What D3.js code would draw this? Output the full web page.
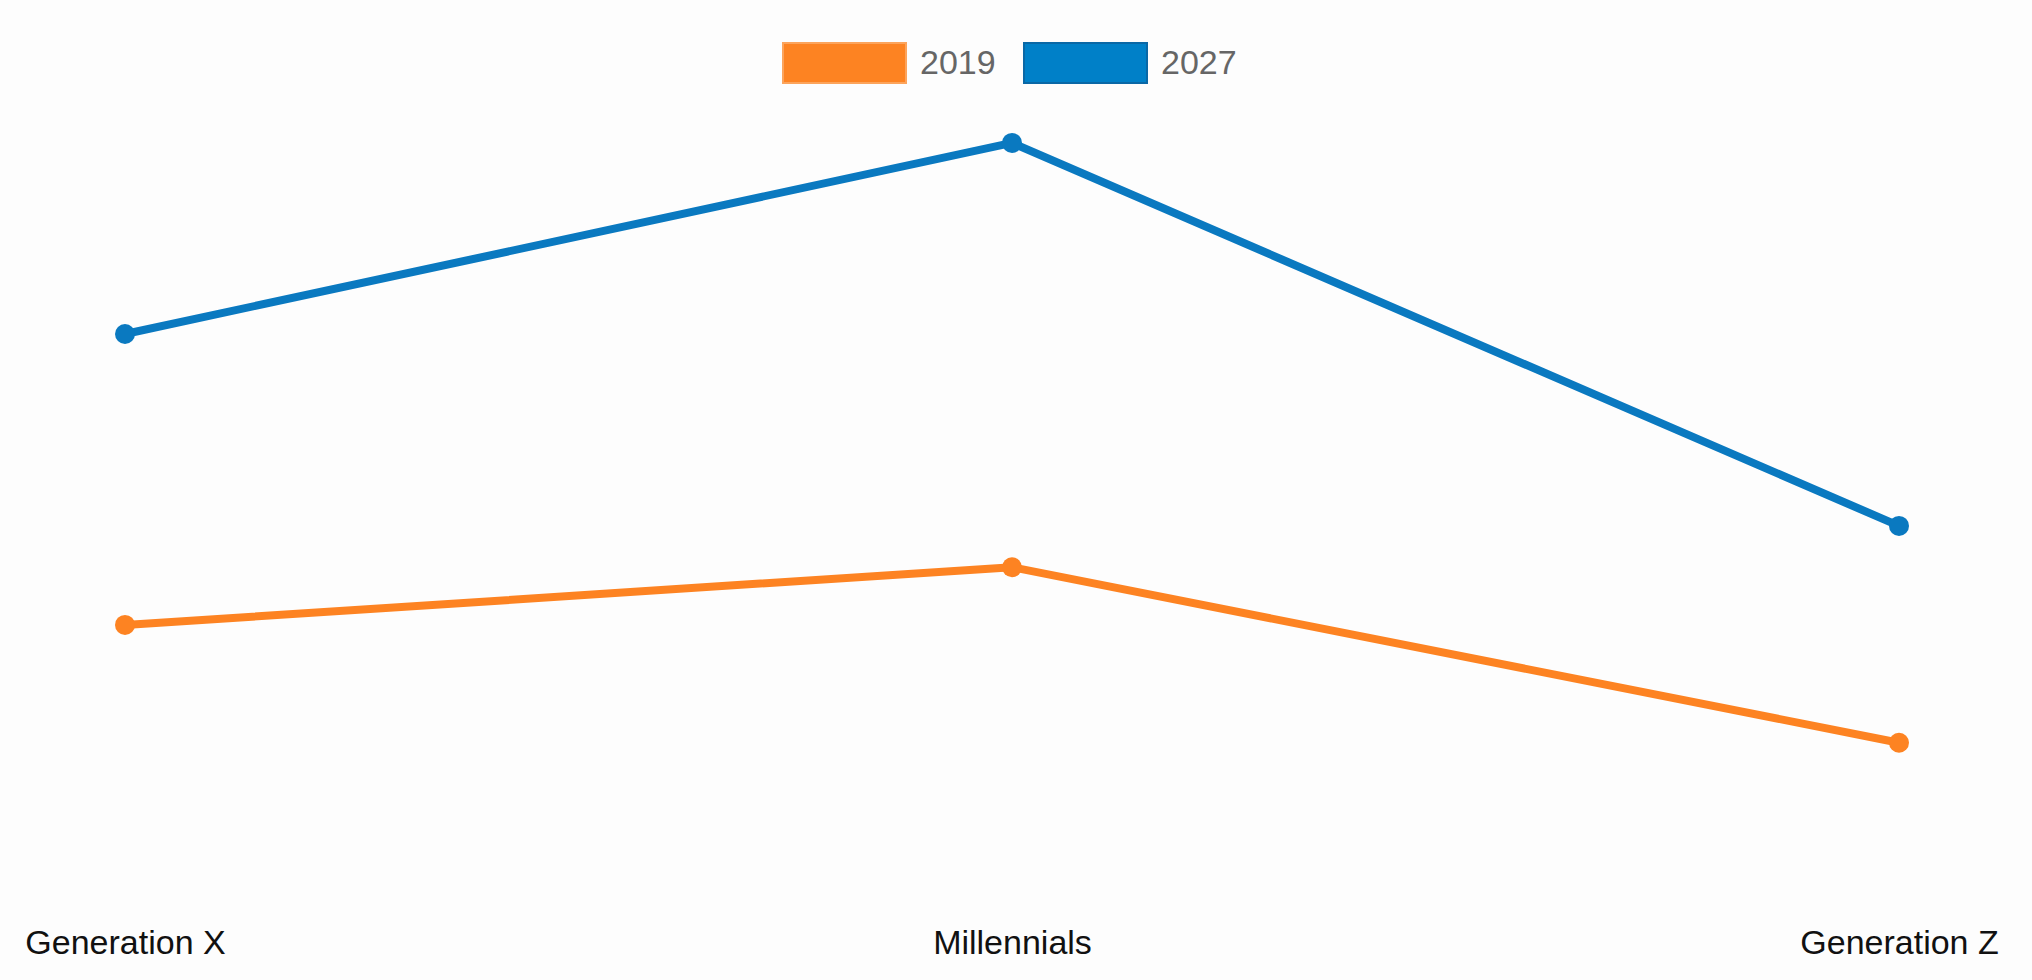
<!DOCTYPE html>
<html><head><meta charset="utf-8">
<script src="https://cdn.jsdelivr.net/npm/d3@7"></script>
<style>html,body{margin:0;padding:0;background:#fdfdfd;}svg{display:block;}</style>
</head><body>
<script>
const categories = ["Generation X", "Millennials", "Generation Z"];
const seriesNames = ["2019", "2027"];
const values2019 = [32.7, 40.1, 17.6];
const values2027 = [70.0, 94.5, 45.4];
const colors = ["#fd8322", "#0a79c0"];
const legendFill = ["#fd8322", "#0080c8"];
const legendStroke = ["#fca45c", "#0a68a6"];

const W = 2032, H = 980;
const svg = d3.select("body").append("svg").attr("width", W).attr("height", H);
svg.append("rect").attr("width", W).attr("height", H).attr("fill", "#fdfdfd");

const x = d3.scalePoint().domain(categories).range([125, 1899]);
const y = d3.scaleLinear().domain([0, 100]).range([880, 100]);

const series = [values2019, values2027];
const line = d3.line().x((d, i) => x(categories[i])).y(d => y(d));

series.forEach((vals, s) => {
  svg.append("path").datum(vals).attr("d", line)
    .attr("fill", "none").attr("stroke", colors[s]).attr("stroke-width", 8)
    .attr("stroke-linejoin", "round");
  svg.selectAll(".pt" + s).data(vals).enter().append("circle")
    .attr("cx", (d, i) => x(categories[i])).attr("cy", d => y(d)).attr("r", 10)
    .attr("fill", colors[s]);
});

const xAxis = d3.axisBottom(x).tickSize(0).tickPadding(0);
const gx = svg.append("g").attr("transform", "translate(0,930)").call(xAxis);
gx.select(".domain").remove();
gx.selectAll("text").attr("font-family", "'Liberation Sans', Arial, sans-serif")
  .attr("font-size", 34).attr("fill", "#111").attr("dy", "0.7em");

const legendX = [782, 1023];
seriesNames.forEach((n, s) => {
  svg.append("rect").attr("x", legendX[s] + 1).attr("y", 43).attr("width", 123).attr("height", 40)
    .attr("fill", legendFill[s]).attr("stroke", legendStroke[s]).attr("stroke-width", 2);
  svg.append("text").attr("x", legendX[s] + 138).attr("y", 74)
    .attr("font-family", "'Liberation Sans', Arial, sans-serif").attr("font-size", 34)
    .attr("fill", "#666").text(n);
});
</script>
</body></html>
